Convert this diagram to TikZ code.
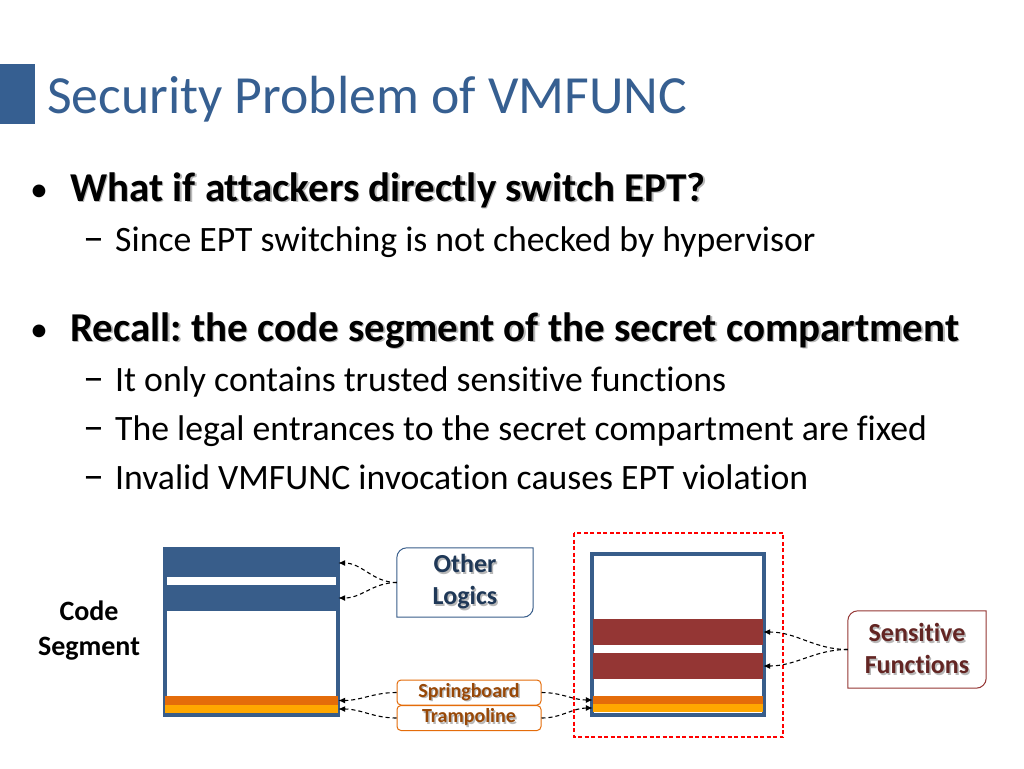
\documentclass[tikz,border=0pt]{standalone}
\usepackage{fontspec}
\setmainfont{Carlito}[Ligatures={TeX,NoCommon}]
\usetikzlibrary{arrows.meta}
\frenchspacing

\definecolor{segblue}{RGB}{56,93,138}
\definecolor{titleblue}{RGB}{54,95,145}
\definecolor{logicblue}{RGB}{31,56,87}
\definecolor{funcred}{RGB}{148,54,52}
\definecolor{functext}{RGB}{99,37,35}
\definecolor{springorange}{RGB}{228,108,10}
\definecolor{trampyellow}{RGB}{255,167,0}
\definecolor{springtext}{RGB}{152,72,7}

% text with a soft drop shadow
\newcommand\shadowed[1]{\makebox[0pt][l]{\color{black!28}\hspace{1.5pt}\raisebox{-1.5pt}{#1}}#1}

\begin{document}
\begin{tikzpicture}[x=1pt, y=-1pt, >={Latex[length=7pt,width=6pt]},
  txt/.style={inner sep=0pt, anchor=base west},
  head/.style={txt, font=\bfseries\fontsize{41}{46}\selectfont},
  body/.style={txt, font=\fontsize{35.7}{42}\selectfont},
  dashmark/.style={txt, font=\fontsize{42}{46}\selectfont},
  band/.style={inner sep=0pt, draw=none, minimum width=#1},
  conn/.style={->, dashed, line width=1.1pt, dash pattern=on 4pt off 3pt},
  tag/.style={inner sep=0pt, align=center, font=\bfseries\fontsize{26}{32}\selectfont}]

\def\snipbox#1#2{
\draw[#2] (#1.south west) -- ([yshift=-10pt]#1.north west)
  arc[start angle=180, end angle=90, radius=10pt] -- (#1.north east)
  -- ([yshift=10pt]#1.south east)
  arc[start angle=0, end angle=-90, radius=10pt] -- cycle;
}

\useasboundingbox (0,0) rectangle (1024,768);
\fill[white] (0,0) rectangle (1024,768);

% title
\fill[titleblue] (0,64) rectangle (35,124);
\node[txt, font=\fontsize{53.7}{60}\selectfont, text=titleblue] (title) at (47,113) {Security Problem of VMFUNC};

% bullets
\node[txt, font=\fontsize{36}{40}\selectfont] (dot1) at (30,201) {\textbullet};
\node[head] (q1) at (70,201) {\shadowed{What if attackers directly switch EPT?}};
\node[dashmark] (dash1) at (83,251) {--};
\node[body] (s1) at (115,251) {Since EPT switching is not checked by hypervisor};

\node[txt, font=\fontsize{36}{40}\selectfont] (dot2) at (30,341) {\textbullet};
\node[head] (q2) at (70,341) {\shadowed{Recall: the code segment of the secret compartment}};
\node[dashmark] (dash2) at (83,391) {--};
\node[body] (s2) at (115,391) {It only contains trusted sensitive functions};
\node[dashmark] (dash3) at (83,440) {--};
\node[body] (s3) at (115,440) {The legal entrances to the secret compartment are fixed};
\node[dashmark] (dash4) at (83,489) {--};
\node[body] (s4) at (115,489) {Invalid VMFUNC invocation causes EPT violation};

% left code segment
\node[align=center, inner sep=0pt, font=\bfseries\fontsize{28}{35}\selectfont] (codeseg) at (89,631) {Code\\Segment};
\node[draw=segblue, line width=4pt, fill=white, minimum width=173pt, minimum height=166pt, inner sep=0pt] (lseg) at (251.5,632) {};
\node[band=173pt, fill=segblue, minimum height=28pt] (lband1) at (251.5,563) {};
\node[band=173pt, fill=segblue, minimum height=26pt] (lband2) at (251.5,598) {};
\node[band=173pt, fill=springorange, minimum height=9pt] (lspring) at (251.5,700.5) {};
\node[band=173pt, fill=trampyellow, minimum height=8pt] (ltramp) at (251.5,709) {};

% right code segment
\draw[red, line width=1.5pt, dash pattern=on 4pt off 2.5pt] (574,533) rectangle (783,737);
\node[draw=segblue, line width=4pt, fill=white, minimum width=172pt, minimum height=161pt, inner sep=0pt] (rseg) at (678,634.5) {};
\node[band=170pt, fill=funcred, minimum height=26pt] (rband1) at (678,632) {};
\node[band=170pt, fill=funcred, minimum height=26pt] (rband2) at (678,666) {};
\node[band=170pt, fill=springorange, minimum height=8pt] (rspring) at (678,700) {};
\node[band=170pt, fill=trampyellow, minimum height=8pt] (rtramp) at (678,708) {};

% labels
\node[tag, minimum width=136pt, minimum height=69pt, text=logicblue] (logics) at (465,582.5) {\shadowed{Other}\\\shadowed{Logics}};
\snipbox{logics}{segblue, line width=1pt}
\node[tag, minimum width=138pt, minimum height=77pt, text=functext] (funcs) at (917,649.5) {\shadowed{Sensitive}\\\shadowed{Functions}};
\snipbox{funcs}{funcred, line width=1pt}
\node[draw=springorange, rounded corners=4pt, line width=1pt, minimum width=144pt, minimum height=25pt, inner sep=0pt, font=\bfseries\fontsize{20}{22}\selectfont, text=springtext] (spring) at (469,692.5) {\shadowed{Springboard}};
\node[draw=springorange, rounded corners=4pt, line width=1pt, minimum width=144pt, minimum height=25pt, inner sep=0pt, font=\bfseries\fontsize{20}{22}\selectfont, text=springtext] (tramp) at (469,718) {\shadowed{Trampoline}};

% connectors
\draw[conn] (logics.west) to[out=180, in=0] (lband1.east);
\draw[conn] (logics.west) to[out=180, in=0] (lband2.east);
\draw[conn] (spring.west) to[out=180, in=0] (lspring.east);
\draw[conn] (tramp.west) to[out=180, in=0] (ltramp.east);
\draw[conn] (spring.east) to[out=0, in=180] (rspring.west);
\draw[conn] (tramp.east) to[out=0, in=180] (rtramp.west);
\draw[conn] (funcs.west) to[out=180, in=0] (rband1.east);
\draw[conn] (funcs.west) to[out=180, in=0] (rband2.east);

\end{tikzpicture}
\end{document}
